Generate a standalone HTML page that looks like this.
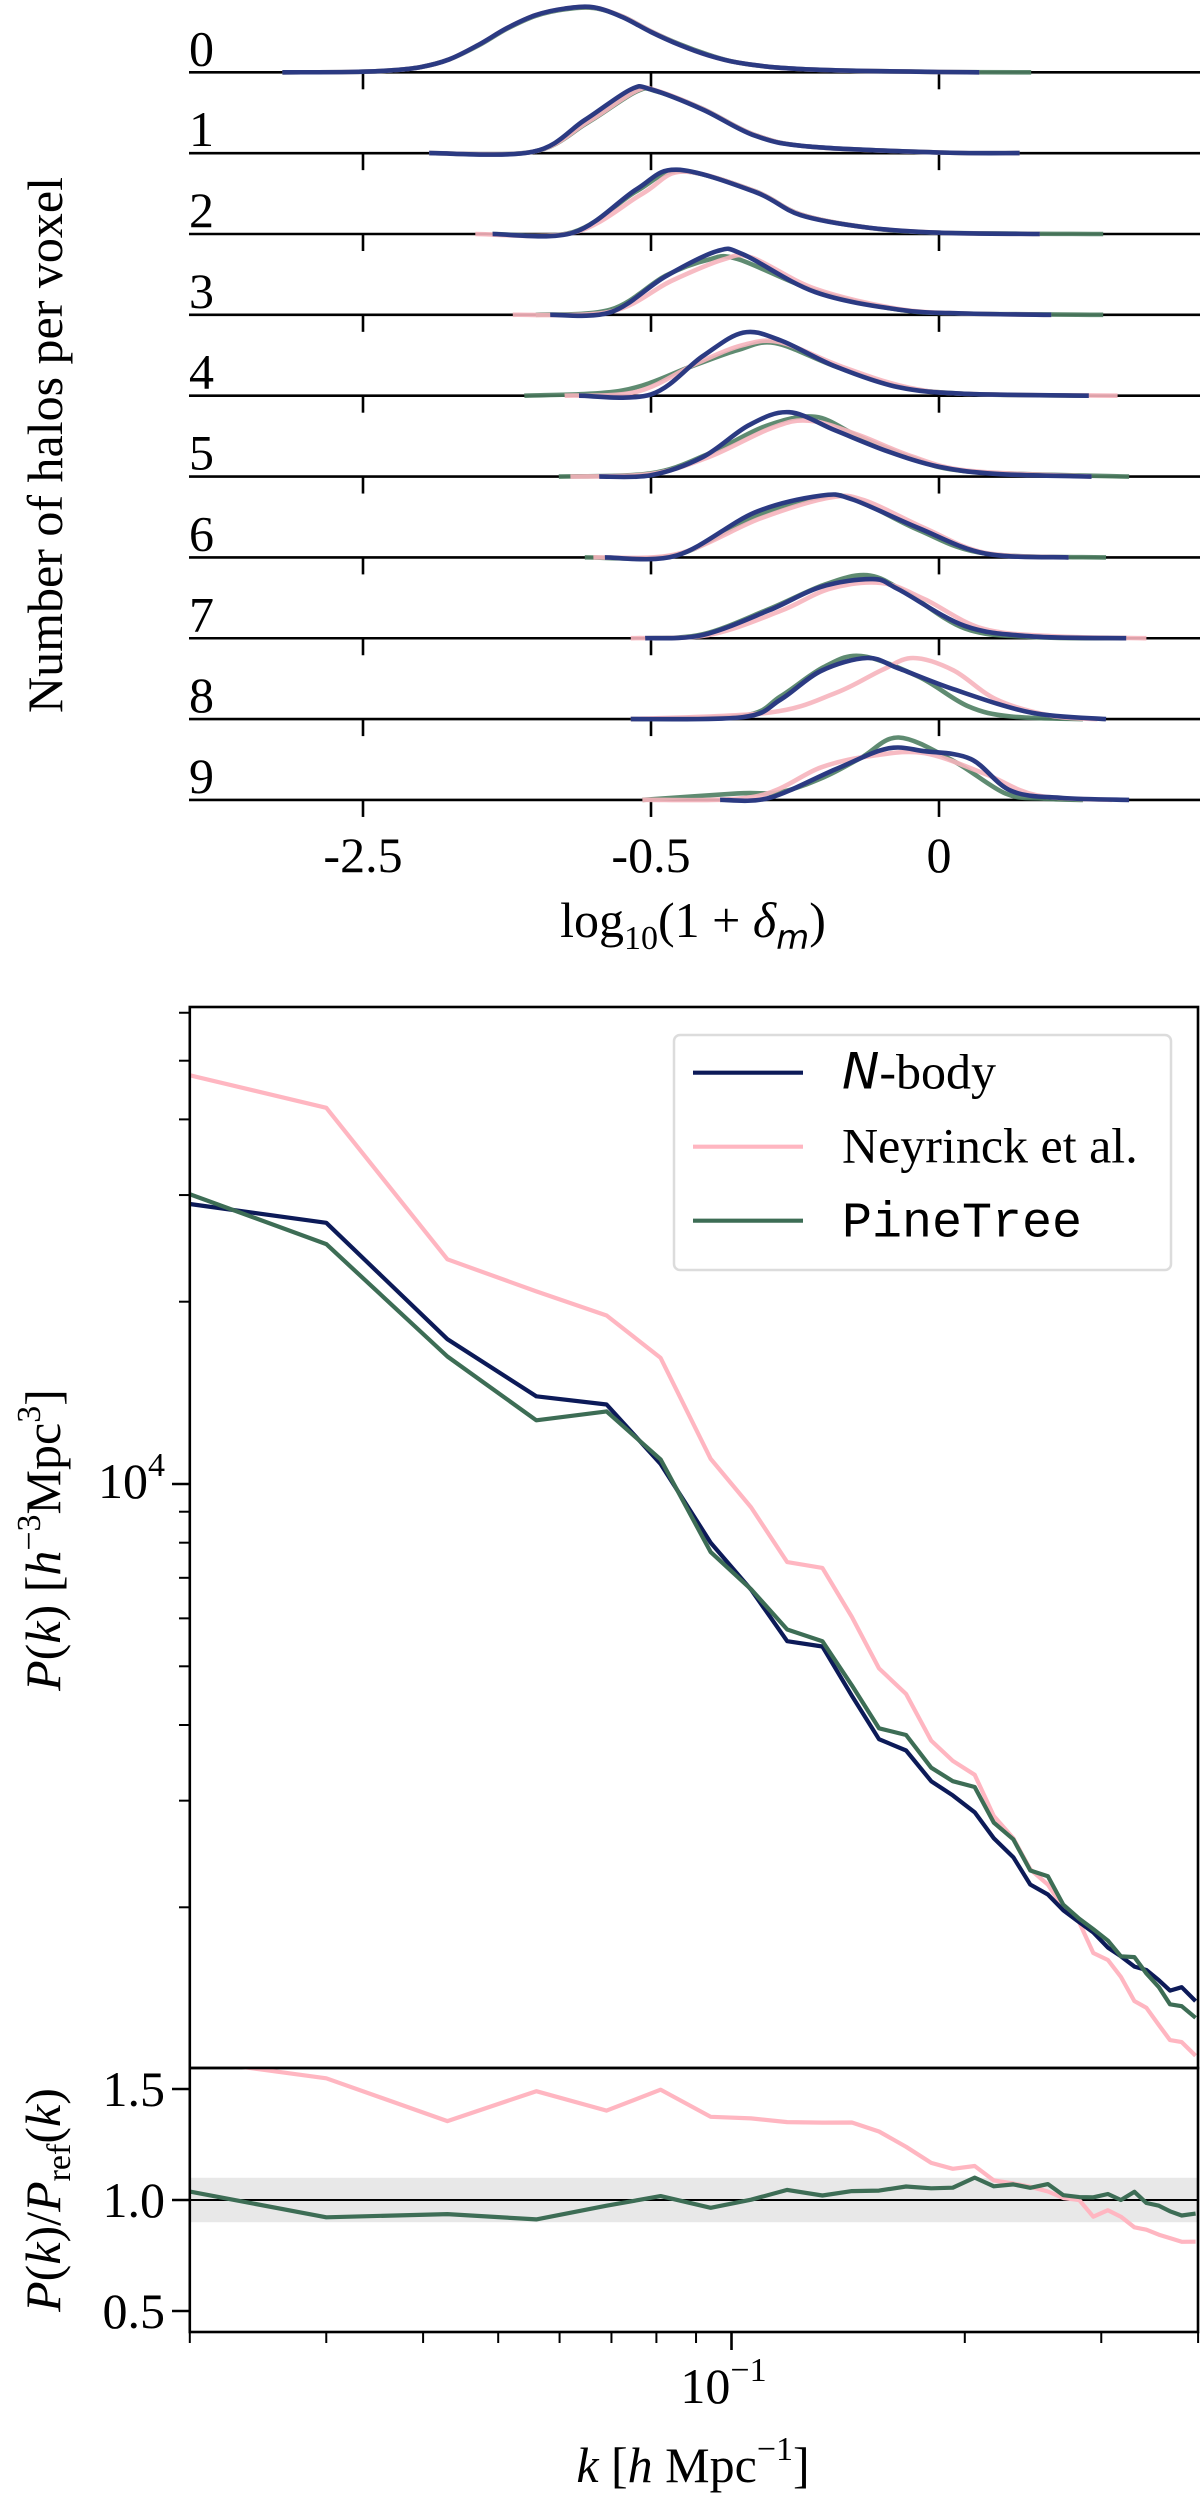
<!DOCTYPE html>
<html><head><meta charset="utf-8"><title>Halo distribution and power spectrum</title>
<style>
html,body{margin:0;padding:0;background:#fff;}
svg{display:block;font-family:"Liberation Serif","DejaVu Serif",serif;}
</style></head>
<body>
<svg id="fig" width="1200" height="2498" viewBox="0 0 1200 2498" xmlns="http://www.w3.org/2000/svg">
<defs>
<clipPath id="clipMain"><rect x="189.8" y="1007" width="1008.2" height="1061"/></clipPath>
<clipPath id="clipRatio"><rect x="189.8" y="2068" width="1008.2" height="264"/></clipPath>
</defs>
<g id="ridge"></g>
<g id="main"></g>
<g id="ratio"></g>
</svg>
<script>
// ---------- Ridge plot data ----------
const ridgeTickLabels = ["-2.5", "-0.5", "0"];
const ridgeRowLabels = ["0","1","2","3","4","5","6","7","8","9"];
const ridgeBlue = [
 [[-0.28,0],[-0.05,0.005],[0.1,0.03],[0.2,0.08],[0.3,0.2],[0.4,0.42],[0.5,0.68],[0.6,0.88],[0.7,0.98],[0.8,1.0],[0.9,0.85],[1.0,0.62],[1.1,0.42],[1.2,0.26],[1.3,0.15],[1.45,0.07],[1.64,0.03],[2.0,0.005],[2.14,0]],
 [[0.23,0],[0.59,0.02],[0.77,0.51],[0.93,0.98],[1.0,0.98],[1.18,0.67],[1.36,0.27],[1.55,0.1],[2.0,0.01],[2.28,0]],
 [[0.45,0],[0.73,0.02],[0.95,0.69],[1.09,0.99],[1.36,0.65],[1.52,0.29],[1.75,0.1],[2.0,0.02],[2.35,0]],
 [[0.65,0],[0.86,0.04],[1.05,0.59],[1.23,0.98],[1.32,0.93],[1.57,0.35],[1.86,0.08],[2.09,0.02],[2.39,0]],
 [[0.75,0],[1.0,0.02],[1.18,0.61],[1.32,0.97],[1.45,0.85],[1.64,0.45],[1.86,0.13],[2.09,0.03],[2.52,0]],
 [[0.82,0],[1.0,0.02],[1.18,0.3],[1.34,0.79],[1.48,0.99],[1.64,0.71],[1.82,0.39],[2.0,0.15],[2.2,0.04],[2.53,0]],
 [[0.84,0],[1.09,0.03],[1.36,0.69],[1.59,0.95],[1.7,0.89],[1.93,0.45],[2.16,0.06],[2.45,0]],
 [[0.98,0],[1.18,0.05],[1.41,0.43],[1.59,0.79],[1.77,0.91],[1.86,0.75],[2.09,0.19],[2.32,0.03],[2.65,0]],
 [[0.93,0],[1.32,0.03],[1.45,0.3],[1.59,0.74],[1.75,0.94],[1.86,0.78],[2.05,0.46],[2.32,0.1],[2.58,0]],
 [[1.24,0],[1.41,0.03],[1.64,0.47],[1.82,0.79],[1.95,0.75],[2.11,0.63],[2.25,0.14],[2.43,0.03],[2.66,0]]
];
const ridgeGreen = [
 [[-0.28,0],[-0.05,0.005],[0.1,0.03],[0.2,0.08],[0.3,0.2],[0.4,0.41],[0.5,0.67],[0.6,0.87],[0.7,0.97],[0.8,0.99],[0.9,0.86],[1.0,0.63],[1.1,0.43],[1.2,0.27],[1.3,0.15],[1.45,0.07],[1.64,0.03],[2.0,0.005],[2.32,0]],
 [[0.23,0],[0.59,0.02],[0.78,0.47],[0.95,0.95],[1.02,0.95],[1.18,0.68],[1.36,0.28],[1.55,0.1],[2.0,0.01],[2.28,0]],
 [[0.45,0],[0.73,0.03],[0.95,0.66],[1.1,0.97],[1.36,0.66],[1.52,0.3],[1.75,0.1],[2.0,0.02],[2.57,0]],
 [[0.6,0],[0.86,0.08],[1.05,0.6],[1.2,0.85],[1.3,0.86],[1.57,0.37],[1.86,0.08],[2.09,0.02],[2.57,0]],
 [[0.56,0],[0.9,0.08],[1.14,0.45],[1.3,0.7],[1.43,0.81],[1.64,0.45],[1.86,0.14],[2.09,0.03],[2.52,0]],
 [[0.68,0],[1.0,0.05],[1.2,0.35],[1.4,0.78],[1.57,0.92],[1.72,0.62],[1.9,0.3],[2.1,0.08],[2.66,0]],
 [[0.77,0],[1.09,0.04],[1.36,0.63],[1.6,0.94],[1.72,0.87],[1.93,0.42],[2.16,0.06],[2.58,0]],
 [[0.98,0],[1.18,0.06],[1.41,0.45],[1.6,0.82],[1.75,0.97],[1.88,0.72],[2.09,0.15],[2.32,0.02],[2.65,0]],
 [[0.93,0],[1.32,0.05],[1.45,0.35],[1.6,0.8],[1.73,0.97],[1.93,0.65],[2.1,0.2],[2.25,0.04],[2.5,0]],
 [[0.97,0],[1.3,0.1],[1.45,0.12],[1.6,0.35],[1.73,0.65],[1.86,0.96],[2.05,0.6],[2.23,0.1],[2.36,0.02],[2.5,0]]
];
const ridgePink = [
 [[-0.28,0],[-0.05,0.005],[0.1,0.03],[0.2,0.08],[0.3,0.2],[0.4,0.42],[0.5,0.68],[0.6,0.88],[0.7,0.98],[0.8,1.0],[0.9,0.86],[1.0,0.63],[1.1,0.42],[1.2,0.26],[1.3,0.15],[1.45,0.07],[1.64,0.03],[2.0,0.005],[2.14,0]],
 [[0.23,0],[0.59,0.02],[0.78,0.48],[0.95,0.96],[1.02,0.96],[1.18,0.68],[1.36,0.28],[1.55,0.1],[2.0,0.01],[2.28,0]],
 [[0.39,0],[0.73,0.02],[0.97,0.62],[1.11,0.96],[1.36,0.66],[1.52,0.3],[1.75,0.1],[2.0,0.02],[2.35,0]],
 [[0.52,0],[0.86,0.05],[1.07,0.52],[1.25,0.85],[1.35,0.88],[1.57,0.4],[1.86,0.09],[2.09,0.02],[2.39,0]],
 [[0.7,0],[0.95,0.06],[1.16,0.5],[1.32,0.78],[1.45,0.82],[1.66,0.45],[1.88,0.14],[2.09,0.03],[2.62,0]],
 [[0.72,0],[1.0,0.04],[1.2,0.3],[1.42,0.75],[1.55,0.86],[1.72,0.64],[1.9,0.32],[2.1,0.09],[2.53,0]],
 [[0.8,0],[1.09,0.05],[1.38,0.6],[1.62,0.92],[1.74,0.88],[1.95,0.45],[2.16,0.07],[2.45,0]],
 [[0.93,0],[1.2,0.05],[1.45,0.42],[1.62,0.76],[1.8,0.85],[1.95,0.6],[2.15,0.15],[2.4,0.03],[2.72,0]],
 [[0.93,0],[1.41,0.1],[1.64,0.4],[1.8,0.75],[1.91,0.94],[2.05,0.75],[2.2,0.3],[2.39,0.05],[2.55,0]],
 [[0.97,0],[1.36,0.05],[1.59,0.5],[1.77,0.68],[1.95,0.72],[2.16,0.4],[2.34,0.07],[2.6,0]]
];

// ---------- Power spectrum data ----------
const kValues = [0.020,0.030,0.043,0.056,0.069,0.081,0.094,0.106,0.118,0.131,0.143,0.155,0.168,0.181,0.193,0.206,0.218,0.231,0.243,0.256,0.268,0.281,0.293,0.306,0.318,0.331,0.343,0.356,0.368,0.381,0.397];
const pNbody = [29000,27000,17340,13960,13530,10790,8000,6690,5500,5390,4470,3790,3630,3230,3060,2870,2600,2420,2180,2100,1977,1890,1818,1716,1660,1596,1576,1515,1457,1476,1400];
const pNeyrinck = [47300,41800,23500,20800,18980,16150,11000,9150,7430,7270,6030,4960,4500,3770,3490,3310,2830,2600,2310,2180,1995,1890,1681,1637,1535,1400,1365,1278,1207,1198,1137];
const pPineTree = [30100,24900,16240,12740,13180,10980,7720,6700,5750,5500,4650,3950,3850,3400,3230,3160,2760,2590,2300,2250,2020,1915,1840,1762,1660,1655,1555,1476,1383,1373,1314];
const ratioTickValues = [0.5, 1.0, 1.5];
const ratioTickLabels = ["0.5", "1.0", "1.5"];
const pMajorTicks = [10000];
const pMinorTicks = [2000,3000,4000,5000,6000,7000,8000,9000,20000,30000,40000,50000,60000];
const kMajorTicks = [0.1];
const kMinorTicks = [0.02,0.03,0.04,0.05,0.06,0.07,0.08,0.09,0.2,0.3,0.4];

const NS = "http://www.w3.org/2000/svg";
function mk(tag, attrs, parent){ const e=document.createElementNS(NS,tag); for(const k in attrs) e.setAttribute(k,attrs[k]); parent.appendChild(e); return e; }

// ---------- axis functions ----------
const rowY = i => 72.3 + 80.85*i;
const xR = t => 363 + 288*t;
const RH = 65;
const xK = k => 189.8 + 775*Math.log10(k/0.02);
const yP = p => 1484 - 605.6*Math.log10(p/10000);
const yR = r => 2200 - 222*(r-1);

function smoothPath(pts){
  let d = "M"+pts[0][0].toFixed(1)+","+pts[0][1].toFixed(1);
  for(let i=0;i<pts.length-1;i++){
    const p0=pts[Math.max(0,i-1)], p1=pts[i], p2=pts[i+1], p3=pts[Math.min(pts.length-1,i+2)];
    const c1=[p1[0]+(p2[0]-p0[0])/6, p1[1]+(p2[1]-p0[1])/6];
    const c2=[p2[0]-(p3[0]-p1[0])/6, p2[1]-(p3[1]-p1[1])/6];
    d+=" C"+c1[0].toFixed(1)+","+c1[1].toFixed(1)+" "+c2[0].toFixed(1)+","+c2[1].toFixed(1)+" "+p2[0].toFixed(1)+","+p2[1].toFixed(1);
  }
  return d;
}

// ---------- Ridge plot ----------
const ridge = document.getElementById("ridge");
for(let i=0;i<10;i++){
  const y=rowY(i);
  const g=mk("g",{},ridge);
  
  
  const base=mk("line",{x1:189,y1:y,x2:1200,y2:y,stroke:"#000","stroke-width":2.6},g);
  
  
  for(let j=0;j<3;j++){
    const tk=mk("line",{x1:xR(j),y1:y,x2:xR(j),y2:y+17,stroke:"#000","stroke-width":2.6},g);
    
    
  }
  const lab=mk("text",{x:189,y:y-7,"font-size":50},g);
  lab.textContent=ridgeRowLabels[i];
  
  
  const series=[[ridgeGreen[i],"#4e7e62",0.9,"green"],[ridgePink[i],"#f6b4bc",0.9,"pink"],[ridgeBlue[i],"#2b3a82",1,"blue"]];
  for(const s of series){
    const pts=s[0].map(p=>[xR(p[0]), y - RH*p[1]]);
    const path=mk("path",{d:smoothPath(pts),fill:"none",stroke:s[1],"stroke-width":4.6,"stroke-opacity":s[2],"stroke-linejoin":"round"},g);
    
    
  }
}
for(let j=0;j<3;j++){
  const t=mk("text",{x:xR(j),y:872,"font-size":50,"text-anchor":"middle"},ridge);
  t.textContent=ridgeTickLabels[j];
  
  
}
{
  const t=mk("text",{x:693,y:937,"font-size":50,"text-anchor":"middle"},ridge);
  t.innerHTML='log<tspan font-size="34" dy="12">10</tspan><tspan dy="-12">(1 + </tspan><tspan font-style="italic">δ</tspan><tspan font-size="34" dy="12" font-style="italic" font-family="DejaVu Sans, sans-serif">m</tspan><tspan dy="-12">)</tspan>';
  
  
  const yl=mk("text",{x:0,y:0,"font-size":50,"text-anchor":"middle",transform:"translate(62,445) rotate(-90)"},ridge);
  yl.textContent="Number of halos per voxel";
  
  
}

// ---------- Main power spectrum plot ----------
const main=document.getElementById("main");
const colors={nbody:"#0c1a58",ney:"#ffb6c1",pine:"#3d6d55"};
function linePath(xs,ys){ return xs.map((x,i)=>(i?"L":"M")+x.toFixed(1)+","+ys[i].toFixed(1)).join(" "); }
{
  const cg=mk("g",{"clip-path":"url(#clipMain)"},main);
  const order=[["ney",pNeyrinck,"neyrinck-line"],["nbody",pNbody,"nbody-line"],["pine",pPineTree,"pinetree-line"]];
  for(const o of order){
    const p=mk("path",{d:linePath(kValues.map(xK),o[1].map(yP)),fill:"none",stroke:colors[o[0]],"stroke-width":4.2,"stroke-linejoin":"round"},cg);
    
    
  }
  const fr=mk("rect",{x:189.8,y:1007,width:1008.2,height:1061,fill:"none",stroke:"#000","stroke-width":2.6},main);
  
  
  for(const v of pMajorTicks){
    const t=mk("line",{x1:172,y1:yP(v),x2:189.8,y2:yP(v),stroke:"#000","stroke-width":2.6},main);
    
    
    const l=mk("text",{x:165,y:yP(v)+14,"font-size":50,"text-anchor":"end"},main);
    l.innerHTML='10<tspan font-size="34" dy="-22">4</tspan>';
    
    
  }
  for(const v of pMinorTicks){
    const t=mk("line",{x1:179,y1:yP(v),x2:189.8,y2:yP(v),stroke:"#000","stroke-width":2},main);
    
    
  }
  const yl=mk("text",{x:0,y:0,"font-size":50,"text-anchor":"middle",transform:"translate(60,1540) rotate(-90)"},main);
  yl.innerHTML='<tspan font-style="italic">P</tspan>(<tspan font-style="italic">k</tspan>) [<tspan font-style="italic">h</tspan><tspan font-size="34" dy="-20">−3</tspan><tspan dy="20">Mpc</tspan><tspan font-size="34" dy="-20">3</tspan><tspan dy="20">]</tspan>';
  
  

  // legend
  const lg=mk("g",{},main);
  
  
  mk("rect",{x:674,y:1035,width:497,height:235,rx:6,fill:"#fff","fill-opacity":0.85,stroke:"#dcdcdc","stroke-width":2.5},lg);
  const entries=[["nbody",1072.7,'<tspan font-family="DejaVu Sans, sans-serif" font-style="italic">N</tspan>-body',"legend-entry-nbody"],
                 ["ney",1146.7,'Neyrinck et al.',"legend-entry-neyrinck"],
                 ["pine",1220.7,'<tspan font-family="Liberation Mono, monospace">PineTree</tspan>',"legend-entry-pinetree"]];
  for(const e of entries){
    const g=mk("g",{},lg);
    
    
    mk("line",{x1:693,y1:e[1],x2:803,y2:e[1],stroke:colors[e[0]],"stroke-width":4.2},g);
    const t=mk("text",{x:842,y:e[1]+16,"font-size":50},g);
    t.innerHTML=e[2];
  }
}

// ---------- Ratio panel ----------
const ratio=document.getElementById("ratio");
{
  const band=mk("rect",{x:189.8,y:yR(1.1),width:1008.2,height:yR(0.9)-yR(1.1),fill:"#e8e8e8"},ratio);
  
  
  const one=mk("line",{x1:189.8,y1:yR(1),x2:1198,y2:yR(1),stroke:"#000","stroke-width":2},ratio);
  
  
  const cg=mk("g",{"clip-path":"url(#clipRatio)"},ratio);
  const rN=pNeyrinck.map((v,i)=>v/pNbody[i]);
  const rP=pPineTree.map((v,i)=>v/pNbody[i]);
  const a=mk("path",{d:linePath(kValues.map(xK),rN.map(yR)),fill:"none",stroke:colors.ney,"stroke-width":4.2,"stroke-linejoin":"round"},cg);
  
  
  const b=mk("path",{d:linePath(kValues.map(xK),rP.map(yR)),fill:"none",stroke:colors.pine,"stroke-width":4.2,"stroke-linejoin":"round"},cg);
  
  
  const fr=mk("rect",{x:189.8,y:2068,width:1008.2,height:264,fill:"none",stroke:"#000","stroke-width":2.6},ratio);
  
  
  ratioTickValues.forEach((v,i)=>{
    const t=mk("line",{x1:172,y1:yR(v),x2:189.8,y2:yR(v),stroke:"#000","stroke-width":2.6},ratio);
    
    
    const l=mk("text",{x:165,y:yR(v)+17,"font-size":50,"text-anchor":"end"},ratio);
    l.textContent=ratioTickLabels[i];
    
    
  });
  for(const v of kMajorTicks){
    const t=mk("line",{x1:xK(v),y1:2332,x2:xK(v),y2:2350,stroke:"#000","stroke-width":2.6},ratio);
    
    
    const l=mk("text",{x:xK(v)-8,y:2403,"font-size":50,"text-anchor":"middle"},ratio);
    l.innerHTML='10<tspan font-size="34" dy="-22">−1</tspan>';
    
    
  }
  for(const v of kMinorTicks){
    const t=mk("line",{x1:xK(v),y1:2332,x2:xK(v),y2:2343,stroke:"#000","stroke-width":2},ratio);
    
    
  }
  const xl=mk("text",{x:693,y:2482,"font-size":50,"text-anchor":"middle"},ratio);
  xl.innerHTML='<tspan font-style="italic">k</tspan> [<tspan font-style="italic">h</tspan> Mpc<tspan font-size="34" dy="-22">−1</tspan><tspan dy="22">]</tspan>';
  
  
  const yl=mk("text",{x:0,y:0,"font-size":50,"text-anchor":"middle",transform:"translate(60,2200) rotate(-90)"},ratio);
  yl.innerHTML='<tspan font-style="italic">P</tspan>(<tspan font-style="italic">k</tspan>)/<tspan font-style="italic">P</tspan><tspan font-size="34" dy="10">ref</tspan><tspan dy="-10">(</tspan><tspan font-style="italic">k</tspan>)';
  
  
}
</script>
</body></html>
